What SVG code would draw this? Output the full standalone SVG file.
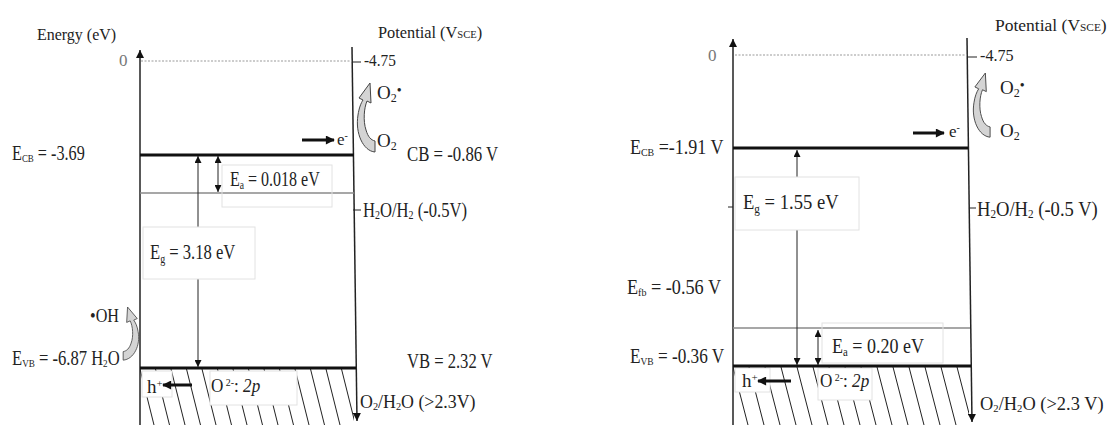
<svg xmlns="http://www.w3.org/2000/svg" width="1110" height="425" viewBox="0 0 1110 425">
<style>
text{font-family:"Liberation Serif","Times New Roman",serif;fill:#222;}
.t16{font-size:17px}.t17{font-size:19px}.t18{font-size:20px}
.ax{stroke:#222;stroke-width:1.5;fill:none}
.band{stroke:#111;stroke-width:3}
.gl{stroke:#8a8a8a;stroke-width:1.6}
.dot{stroke:#999;stroke-width:1;stroke-dasharray:2,1.5}
.thin{stroke:#222;stroke-width:1}
.hat{stroke:#222;stroke-width:1}
.fb{fill:none;stroke:#e2e2e2;stroke-width:1}
.wb{fill:#fff;stroke:#e2e2e2;stroke-width:1}
.ca{fill:#d4d4d4;stroke:#444;stroke-width:1}
.zero{fill:#777}
</style>
<defs>
<marker id="ah" viewBox="0 0 10 10" refX="10" refY="5" markerWidth="7" markerHeight="7" orient="auto-start-reverse" markerUnits="userSpaceOnUse"><path d="M0,0 L10,5 L0,10 z" fill="#111"/></marker>
<marker id="ahAx" viewBox="0 0 10 10" refX="10" refY="5" markerWidth="11" markerHeight="8" orient="auto" markerUnits="userSpaceOnUse"><path d="M0,0 L10,5 L0,10 z" fill="#111"/></marker>
<marker id="ahB" viewBox="0 0 10 10" refX="9" refY="5" markerWidth="10" markerHeight="9" orient="auto" markerUnits="userSpaceOnUse"><path d="M0,0 L10,5 L0,10 z" fill="#111"/></marker>
<path id="curv" d="M18,69 C6,68 -2,50 1,32 C2,25 4,20 6,17 L2,15 L13,0 L14,20 L10,18 C7,25 6,38 9,47 C11,54 14,57 18,58 Z"/>
<clipPath id="clipL"><rect x="140" y="369" width="214" height="56"/></clipPath>
<clipPath id="clipR"><rect x="733" y="367" width="236" height="58"/></clipPath>
</defs>

<!-- LEFT PANEL -->
<g id="left-panel">
 <g id="left-hatch" clip-path="url(#clipL)">
  <path class="hat" d="M140,369 l14,56 M155.5,369 l14,56 M171,369 l14,56 M186.5,369 l14,56 M202,369 l14,56 M217.5,369 l14,56 M233,369 l14,56 M248.5,369 l14,56 M264,369 l14,56 M279.5,369 l14,56 M295,369 l14,56 M310.5,369 l14,56 M326,369 l14,56 M341.5,369 l14,56"/>
 </g>
 <rect class="wb" x="142" y="371" width="30" height="26"/>
 <rect class="wb" x="210" y="371" width="87" height="34"/>
 <g id="left-axes">
  <line class="ax" x1="140" y1="425" x2="140" y2="50" marker-end="url(#ahAx)"/>
  <line class="ax" x1="352" y1="47" x2="357" y2="421" marker-end="url(#ahAx)"/>
  <line class="dot" x1="141" y1="61" x2="352" y2="61"/>
  <line class="thin" x1="352" y1="62" x2="361" y2="62"/>
  <line class="thin" x1="353" y1="210" x2="361" y2="210"/>
 </g>
 <g id="left-levels">
  <line class="band" x1="140" y1="155" x2="354" y2="155"/>
  <line class="gl" x1="140" y1="193" x2="354" y2="193"/>
  <line class="band" x1="140" y1="368" x2="356" y2="368"/>
 </g>
 <g id="left-connectors">
  <line class="thin" x1="198" y1="156" x2="198" y2="367" marker-start="url(#ah)" marker-end="url(#ah)"/>
  <line class="thin" x1="218" y1="156" x2="218" y2="192" marker-start="url(#ah)" marker-end="url(#ah)"/>
  <line stroke="#111" stroke-width="3" x1="302" y1="140" x2="334" y2="140" marker-end="url(#ahB)"/>
  <line stroke="#111" stroke-width="3" x1="192" y1="385" x2="163" y2="385" marker-end="url(#ahB)"/>
  <use href="#curv" class="ca" transform="translate(357,83)"/>
  <use href="#curv" class="ca" transform="translate(139,307) scale(-0.88,0.77)"/>
 </g>
 <rect class="fb" x="222" y="165" width="110" height="42"/>
 <rect class="wb" x="143" y="227" width="112" height="52"/>
 <g id="left-labels">
  <text class="t16" transform="matrix(0.94 0 0 1 37 40)">Energy (eV)</text>
  <text class="t16 zero" x="119" y="66">0</text>
  <text class="t16" transform="matrix(0.96 0 0 1 378 38)">Potential (V<tspan font-size="11">SCE</tspan>)</text>
  <text class="t16" transform="matrix(0.9 0 0 1 364 66)">-4.75</text>
  <text class="t17" x="377" y="99">O<tspan font-size="12" dy="3">2</tspan><tspan font-size="14" dy="-7">•</tspan></text>
  <text class="t17" x="377" y="147">O<tspan font-size="12" dy="3">2</tspan></text>
  <text class="t16" x="337" y="145">e<tspan font-size="10" dy="-6">-</tspan></text>
  <text class="t18" transform="matrix(0.81 0 0 1 12 160)">E<tspan font-size="11" dy="2">CB</tspan><tspan dy="-2"> = -3.69</tspan></text>
  <text class="t18" transform="matrix(0.84 0 0 1 407 161)">CB = -0.86 V</text>
  <text class="t18" transform="matrix(0.8 0 0 1 230 186)">E<tspan font-size="12" dy="3">a</tspan><tspan dy="-3"> = 0.018 eV</tspan></text>
  <text class="t18" transform="matrix(0.83 0 0 1 363 217)">H<tspan font-size="12" dy="2">2</tspan><tspan dy="-2">O/H</tspan><tspan font-size="12" dy="2">2</tspan><tspan dy="-2"> (-0.5V)</tspan></text>
  <text class="t18" transform="matrix(0.83 0 0 1 150 259)">E<tspan font-size="12" dy="4">g</tspan><tspan dy="-4"> = 3.18 eV</tspan></text>
  <text class="t17" transform="matrix(0.85 0 0 1 90 322)">•OH</text>
  <text class="t18" transform="matrix(0.83 0 0 1 12 365)">E<tspan font-size="11" dy="2">VB</tspan><tspan dy="-2"> = -6.87 H</tspan><tspan font-size="11" dy="2">2</tspan><tspan dy="-2">O</tspan></text>
  <text class="t18" transform="matrix(0.83 0 0 1 407 368)">VB = 2.32 V</text>
  <text class="t17" x="147" y="393">h<tspan font-size="11" dy="-6">+</tspan></text>
  <text class="t17" transform="matrix(0.9 0 0 1 211 392)">O<tspan font-size="11" dy="-6"> 2-</tspan><tspan dy="6">: </tspan><tspan font-style="italic">2p</tspan></text>
  <text class="t17" transform="matrix(0.94 0 0 1 360 408)">O<tspan font-size="11" dy="2">2</tspan><tspan dy="-2">/H</tspan><tspan font-size="11" dy="2">2</tspan><tspan dy="-2">O (&gt;2.3V)</tspan></text>
 </g>
</g>

<!-- RIGHT PANEL -->
<g id="right-panel">
 <g id="right-hatch" clip-path="url(#clipR)">
  <path class="hat" d="M733,367 l15,58 M749,367 l15,58 M765,367 l15,58 M781,367 l15,58 M797,367 l15,58 M813,367 l15,58 M829,367 l15,58 M845,367 l15,58 M861,367 l15,58 M877,367 l15,58 M893,367 l15,58 M909,367 l15,58 M925,367 l15,58 M941,367 l15,58 M957,367 l15,58"/>
 </g>
 <rect class="wb" x="735" y="368" width="35" height="24"/>
 <rect class="wb" x="818" y="368" width="54" height="32"/>
 <g id="right-axes">
  <line class="ax" x1="733" y1="425" x2="733" y2="39" marker-end="url(#ahAx)"/>
  <line class="ax" x1="967" y1="38" x2="972" y2="422" marker-end="url(#ahAx)"/>
  <line class="dot" x1="735" y1="55" x2="967" y2="55"/>
  <line class="thin" x1="967" y1="57" x2="977" y2="57"/>
  <line class="thin" x1="728" y1="207" x2="733" y2="207"/>
  <line class="thin" x1="969" y1="208" x2="976" y2="208"/>
 </g>
 <g id="right-levels">
  <line class="band" x1="733" y1="148" x2="968" y2="148"/>
  <line class="gl" x1="733" y1="328" x2="970" y2="328"/>
  <line class="band" x1="733" y1="366" x2="971" y2="366"/>
 </g>
 <g id="right-connectors">
  <line class="thin" x1="797" y1="150" x2="797" y2="365" marker-start="url(#ah)" marker-end="url(#ah)"/>
  <line class="thin" x1="818" y1="330" x2="818" y2="365" marker-start="url(#ah)" marker-end="url(#ah)"/>
  <line stroke="#111" stroke-width="3" x1="913" y1="133" x2="944" y2="133" marker-end="url(#ahB)"/>
  <line stroke="#111" stroke-width="3" x1="791" y1="381" x2="758" y2="381" marker-end="url(#ahB)"/>
  <use href="#curv" class="ca" transform="translate(973,73) scale(0.95,0.93)"/>
 </g>
 <rect class="fb" x="822" y="323" width="121" height="40"/>
 <rect class="wb" x="735" y="177" width="124" height="53"/>
 <g id="right-labels">
  <text class="t16 zero" x="708" y="61">0</text>
  <text class="t16" transform="matrix(1.03 0 0 1 995 31)">Potential (V<tspan font-size="11">SCE</tspan>)</text>
  <text class="t16" transform="matrix(0.95 0 0 1 980 61)">-4.75</text>
  <text class="t17" x="1000" y="94">O<tspan font-size="12" dy="3">2</tspan><tspan font-size="14" dy="-7">•</tspan></text>
  <text class="t17" x="1000" y="137">O<tspan font-size="12" dy="3">2</tspan></text>
  <text class="t16" x="949" y="137">e<tspan font-size="10" dy="-6">-</tspan></text>
  <text class="t18" transform="matrix(0.9 0 0 1 630 154)">E<tspan font-size="11" dy="2">CB</tspan><tspan dy="-2"> =-1.91 V</tspan></text>
  <text class="t18" transform="matrix(0.93 0 0 1 977 216)">H<tspan font-size="12" dy="2">2</tspan><tspan dy="-2">O/H</tspan><tspan font-size="12" dy="2">2</tspan><tspan dy="-2"> (-0.5 V)</tspan></text>
  <text class="t18" transform="matrix(0.93 0 0 1 743 209)">E<tspan font-size="12" dy="4">g</tspan><tspan dy="-4"> = 1.55 eV</tspan></text>
  <text class="t18" transform="matrix(0.91 0 0 1 627 294)">E<tspan font-size="11" dy="2">fb</tspan><tspan dy="-2"> = -0.56 V</tspan></text>
  <text class="t18" transform="matrix(0.9 0 0 1 832 353)">E<tspan font-size="12" dy="3">a</tspan><tspan dy="-3"> = 0.20 eV</tspan></text>
  <text class="t18" transform="matrix(0.86 0 0 1 630 363)">E<tspan font-size="11" dy="2">VB</tspan><tspan dy="-2"> = -0.36 V</tspan></text>
  <text class="t17" x="742" y="387">h<tspan font-size="11" dy="-6">+</tspan></text>
  <text class="t17" transform="matrix(0.9 0 0 1 820 387)">O<tspan font-size="11" dy="-6"> 2-</tspan><tspan dy="6">: </tspan><tspan font-style="italic">2p</tspan></text>
  <text class="t17" transform="matrix(0.97 0 0 1 980 410)">O<tspan font-size="11" dy="2">2</tspan><tspan dy="-2">/H</tspan><tspan font-size="11" dy="2">2</tspan><tspan dy="-2">O (&gt;2.3 V)</tspan></text>
 </g>
</g>
</svg>
